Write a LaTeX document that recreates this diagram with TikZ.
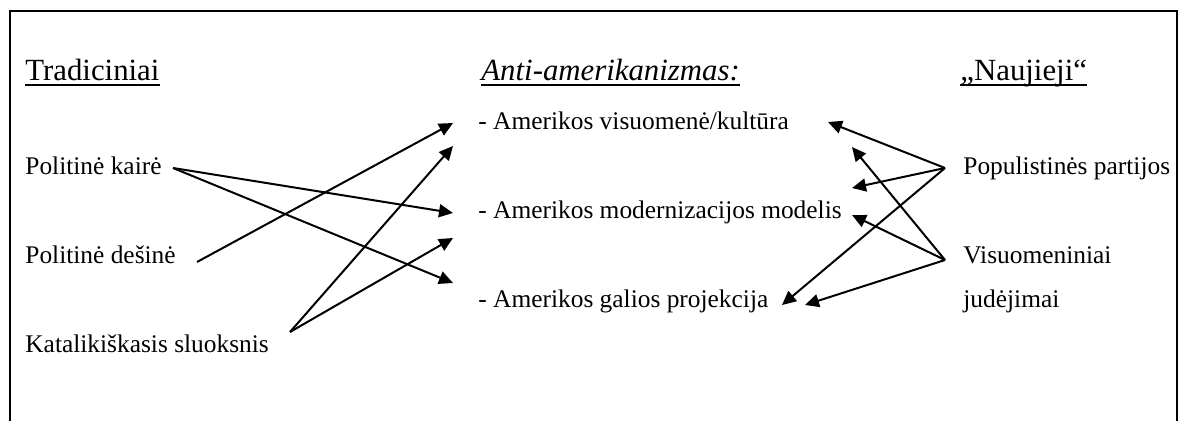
\documentclass[tikz,border=0pt]{standalone}
\usepackage{fontspec}
\setmainfont{Liberation Serif}
\usetikzlibrary{arrows.meta}

\begin{document}
\begin{tikzpicture}[
  x=0.5pt,y=-0.5pt,
  head/.style={anchor=base west,inner sep=0pt,font=\fontsize{15.4pt}{18pt}\selectfont},
  item/.style={anchor=base west,inner sep=0pt,font=\fontsize{12.7pt}{15pt}\selectfont},
  link/.style={line width=1pt,-{Triangle[length=7pt,width=6.5pt]}},
  underl/.style={line width=0.75pt}
  ]
  \useasboundingbox (0,0) rectangle (1183,421);
  \draw [line width=1pt] (10,421) -- (10,11) -- (1177,11) -- (1177,421);

  \node (trad)   [head] at (25,81)  {Tradiciniai};
  \node (anti)   [head] at (481,81) {\itshape Anti-amerikanizmas:};
  \node (nauj)   [head] at (960,81) {„Naujieji“};
  \foreach \n in {trad,anti,nauj}
    \draw [underl] ([yshift=-2pt]\n.base west) -- ([yshift=-2pt]\n.base east);

  \node (kaire)  [item] at (25,175)  {Politinė kairė};
  \node (desine) [item] at (25,264)  {Politinė dešinė};
  \node (katal)  [item] at (25,353)  {Katalikiškasis sluoksnis};

  \node (kult)   [item] at (478,130) {- Amerikos visuomenė/kultūra};
  \node (modern) [item] at (478,219) {- Amerikos modernizacijos modelis};
  \node (galia)  [item] at (478,308) {- Amerikos galios projekcija};

  \node (popul)  [item] at (963,175) {Populistinės partijos};
  \node (visuom) [item] at (963,264) {Visuomeniniai};
  \node (judej)  [item] at (963,308) {judėjimai};

  \coordinate (kaire-out)  at (173,168);
  \coordinate (desine-out) at (197,262);
  \coordinate (katal-out)  at (290,332);
  \coordinate (popul-out)  at (945,168);
  \coordinate (visuom-out) at (945,260);

  \coordinate (kult-a)   at (453,123);
  \coordinate (kult-b)   at (453,146);
  \coordinate (modern-a) at (453,213);
  \coordinate (modern-b) at (453,238);
  \coordinate (galia-a)  at (453,283);
  \coordinate (kult-c)   at (828,122);
  \coordinate (kult-d)   at (852,147);
  \coordinate (modern-c) at (852,188);
  \coordinate (modern-d) at (852,215);
  \coordinate (galia-c)  at (782,305);
  \coordinate (galia-d)  at (805,305);

  \draw [link] (kaire-out)  -- (modern-a);
  \draw [link] (kaire-out)  -- (galia-a);
  \draw [link] (desine-out) -- (kult-a);
  \draw [link] (katal-out)  -- (kult-b);
  \draw [link] (katal-out)  -- (modern-b);
  \draw [link] (popul-out)  -- (kult-c);
  \draw [link] (popul-out)  -- (modern-c);
  \draw [link] (popul-out)  -- (galia-c);
  \draw [link] (visuom-out) -- (kult-d);
  \draw [link] (visuom-out) -- (modern-d);
  \draw [link] (visuom-out) -- (galia-d);
\end{tikzpicture}
\end{document}
